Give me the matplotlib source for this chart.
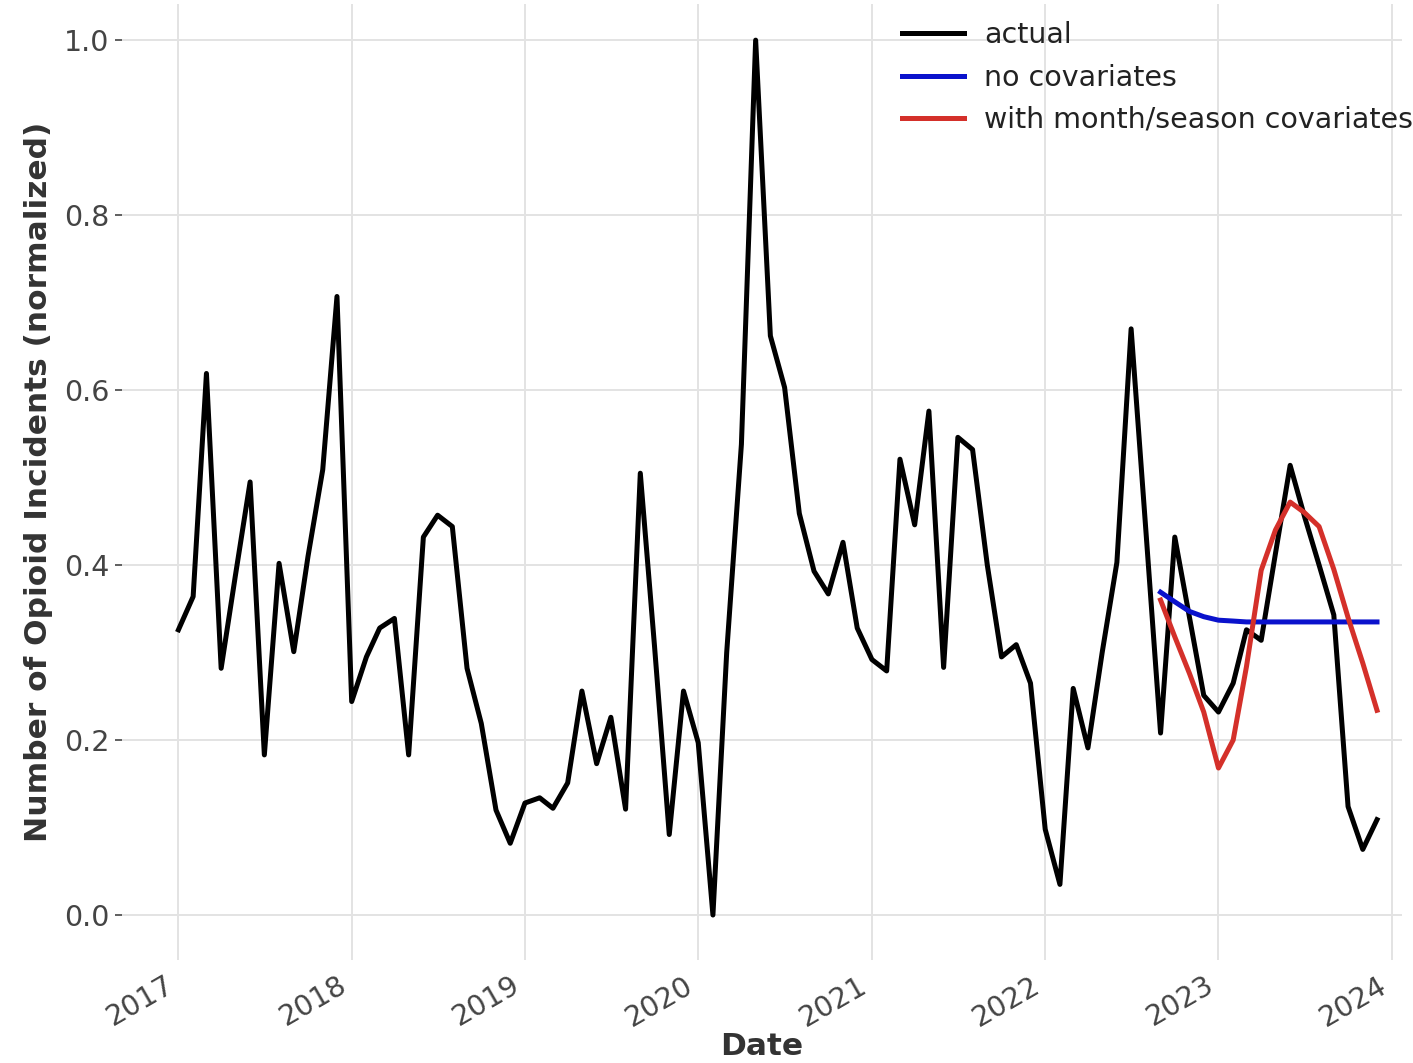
import numpy as np
import pandas as pd
import matplotlib
matplotlib.use("Agg")
import matplotlib.pyplot as plt
import matplotlib.dates as mdates

# monthly normalized incident counts, Jan 2017 - Dec 2023
actual = [
    0.326, 0.364, 0.619, 0.282, 0.388, 0.495, 0.183, 0.402, 0.301, 0.410, 0.509, 0.707,  # 2017
    0.244, 0.295, 0.328, 0.339, 0.183, 0.432, 0.457, 0.444, 0.282, 0.219, 0.120, 0.082,  # 2018
    0.128, 0.134, 0.122, 0.151, 0.256, 0.173, 0.226, 0.121, 0.505, 0.307, 0.092, 0.256,  # 2019
    0.197, 0.000, 0.300, 0.538, 1.000, 0.662, 0.603, 0.459, 0.393, 0.367, 0.426, 0.328,  # 2020
    0.292, 0.279, 0.521, 0.446, 0.576, 0.283, 0.546, 0.532, 0.400, 0.295, 0.309, 0.265,  # 2021
    0.098, 0.035, 0.259, 0.191, 0.300, 0.403, 0.670, 0.440, 0.208, 0.432, 0.340, 0.251,  # 2022
    0.232, 0.265, 0.326, 0.314, 0.413, 0.514, 0.456, 0.400, 0.343, 0.124, 0.075, 0.109,  # 2023
]

# forecasts, Sep 2022 - Dec 2023
pred_plain = [0.369, 0.358, 0.347, 0.341, 0.337, 0.336, 0.335, 0.335,
              0.335, 0.335, 0.335, 0.335, 0.335, 0.335, 0.335, 0.335]
pred_cov = [0.360, 0.318, 0.276, 0.232, 0.168, 0.200, 0.284, 0.394,
            0.440, 0.472, 0.460, 0.444, 0.395, 0.340, 0.288, 0.234]

dates = pd.date_range("2017-01-01", periods=len(actual), freq="MS")
fc_dates = pd.date_range("2022-09-01", periods=len(pred_plain), freq="MS")

fig = plt.figure(figsize=(14.13, 10.63), dpi=100)
ax = fig.add_axes([0.0863, 0.0969, 0.9057, 0.8991])

ax.plot(dates, actual, color="black", lw=3.6, label="actual")
ax.plot(fc_dates, pred_plain, color="#0a12cc", lw=3.6, label="no covariates")
ax.plot(fc_dates, pred_cov, color="#d4302a", lw=3.6, label="with month/season covariates")

ax.set_xlim(pd.Timestamp("2016-09-04"), pd.Timestamp("2024-01-22"))
ax.set_ylim(-0.0514, 1.041)
ax.set_yticks(np.arange(0, 1.01, 0.2))
ax.yaxis.set_major_formatter(plt.FormatStrFormatter("%.1f"))
ax.xaxis.set_major_locator(mdates.YearLocator())
ax.xaxis.set_major_formatter(mdates.DateFormatter("%Y"))

for s in ax.spines.values():
    s.set_visible(False)
ax.grid(True, color="#e3e3e3", lw=1.4)
ax.set_axisbelow(True)
ax.tick_params(axis="y", labelsize=20.5, colors="#444444", length=5, width=1.2, pad=4)
ax.tick_params(axis="x", labelsize=20.5, colors="#444444", length=0, pad=8)
for lbl in ax.get_xticklabels():
    lbl.set_rotation(30)
    lbl.set_ha("right")

ax.set_xlabel("Date", fontsize=22.5, fontweight="bold", color="#333333", labelpad=0)
ax.set_ylabel("Number of Opioid Incidents (normalized)", fontsize=22.5,
              fontweight="bold", color="#333333", labelpad=8)

leg = ax.legend(loc="upper left", bbox_to_anchor=(0.620, 1.004),
                bbox_transform=fig.transFigure, frameon=False, fontsize=20.5,
                handlelength=2.2, handletextpad=0.7, labelspacing=0.5)
for t in leg.get_texts():
    t.set_color("#222222")

fig.savefig("out.png", dpi=100)
